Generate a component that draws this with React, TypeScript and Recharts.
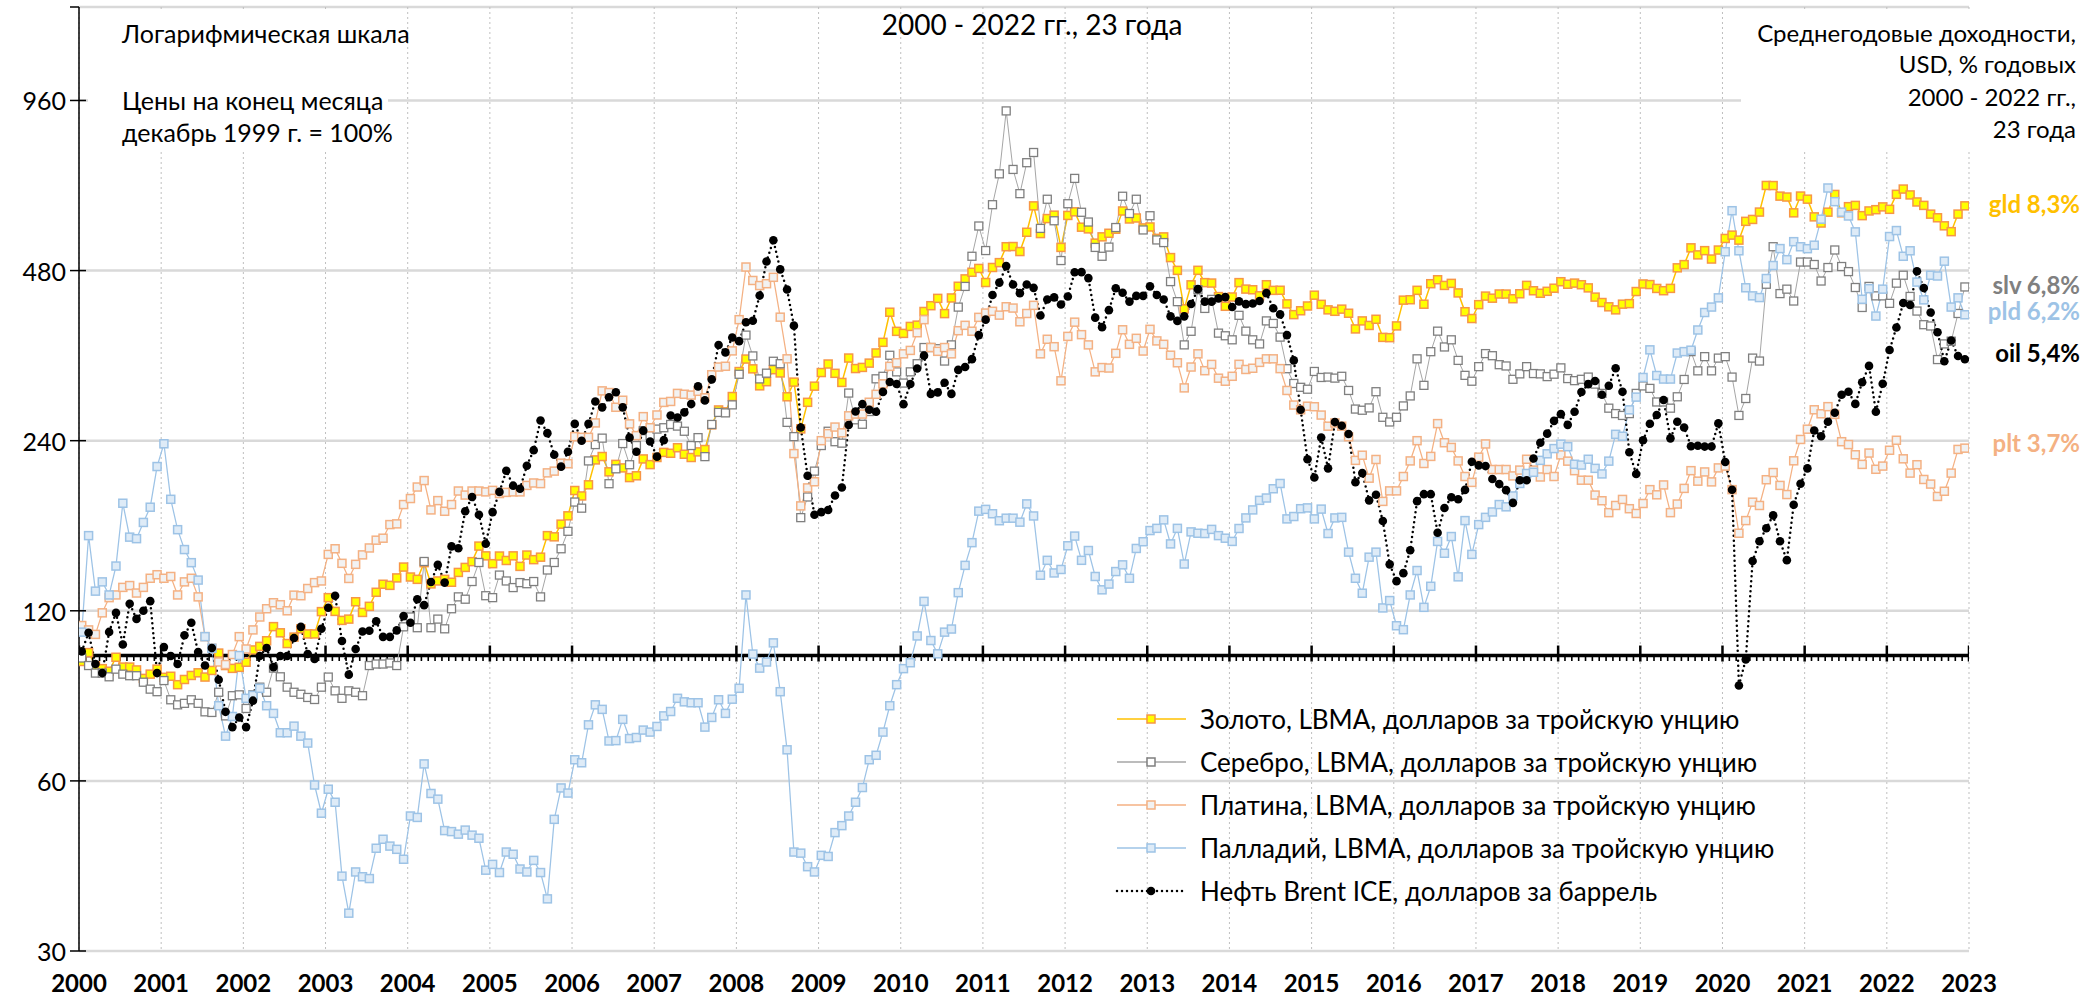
import React from 'react';
import { ComposedChart, Line, Scatter, XAxis, YAxis, CartesianGrid, ReferenceLine } from 'recharts';

const FONT = "Lato, 'Open Sans', 'DejaVu Sans', sans-serif";

// ---------- categories / tick labels ----------
const yearLabels = ['2000', '2001', '2002', '2003', '2004', '2005', '2006', '2007', '2008', '2009', '2010', '2011',
  '2012', '2013', '2014', '2015', '2016', '2017', '2018', '2019', '2020', '2021', '2022', '2023'];
const yTickValues = [30, 60, 120, 240, 480, 960];
const yTop = 1405;

// ---------- series: month-end prices, Dec 1999 = 100 (Jan 2000 ... Dec 2022) ----------
const gldValues = [
  97.6, 101.2, 95.9, 94.8, 93.8, 99.3, 95.4, 95.4, 94.3, 91.1, 92.7, 94.6,
  91.5, 91.9, 88.8, 90.7, 92.2, 93.2, 91.6, 94.1, 101.0, 96.0, 94.9, 95.3,
  97.3, 102.3, 103.8, 106.2, 112.5, 109.7, 105.0, 107.8, 111.5, 109.2, 109.2, 119.6,
  126.6, 119.7, 115.4, 116.0, 124.5, 119.2, 122.2, 129.4, 133.7, 133.1, 137.2, 143.4,
  137.7, 136.4, 146.0, 133.9, 135.5, 136.4, 134.8, 140.3, 143.2, 146.6, 156.2, 150.1,
  145.4, 150.0, 147.3, 150.1, 143.8, 150.6, 147.8, 149.3, 163.0, 162.2, 170.8, 176.7,
  195.9, 191.6, 200.5, 221.9, 225.0, 211.4, 217.9, 214.8, 206.5, 208.0, 222.8, 217.7,
  224.1, 228.8, 228.0, 233.2, 227.1, 224.1, 229.3, 231.5, 256.0, 272.0, 269.9, 287.3,
  318.1, 334.7, 321.6, 300.1, 305.2, 320.5, 316.3, 287.0, 304.7, 251.8, 280.6, 299.7,
  316.8, 328.0, 315.8, 304.3, 336.1, 322.0, 323.5, 329.2, 343.1, 358.3, 405.1, 374.7,
  371.6, 382.3, 384.3, 406.3, 416.0, 428.6, 402.8, 429.3, 450.3, 464.0, 476.7, 484.2,
  457.2, 486.1, 495.8, 529.0, 529.4, 518.7, 561.1, 624.8, 558.1, 593.3, 601.6, 527.5,
  600.9, 609.8, 572.8, 568.9, 536.8, 550.7, 558.8, 568.0, 611.9, 592.3, 594.7, 571.1,
  573.3, 547.3, 550.6, 506.1, 480.4, 410.7, 452.9, 480.5, 457.0, 456.2, 431.7, 415.0,
  431.0, 457.0, 445.1, 443.9, 433.1, 453.1, 442.8, 443.0, 419.1, 401.1, 407.5, 415.5,
  434.2, 418.3, 409.0, 406.6, 410.2, 403.4, 378.4, 391.0, 383.8, 393.6, 365.6, 365.2,
  383.1, 425.5, 426.2, 442.9, 418.5, 455.0, 462.4, 451.8, 455.6, 438.2, 405.9, 394.8,
  417.8, 432.6, 428.9, 436.3, 436.2, 428.0, 436.7, 451.9, 442.1, 437.6, 441.1, 446.7,
  458.7, 454.0, 456.1, 453.1, 447.3, 430.8, 421.4, 414.1, 409.0, 418.6, 419.5, 440.7,
  454.5, 453.4, 446.3, 442.2, 446.4, 485.4, 491.8, 526.6, 511.7, 520.6, 503.1, 521.9,
  547.1, 554.6, 543.4, 586.6, 591.2, 609.2, 679.0, 678.7, 650.1, 647.7, 607.3, 650.3,
  642.1, 597.4, 582.6, 609.0, 654.6, 607.5, 622.8, 626.0, 600.4, 612.0, 615.2, 622.2,
  616.1, 654.9, 669.1, 653.3, 634.8, 626.0, 604.1, 595.2, 576.0, 562.5, 604.2, 624.9,
];

const slvValues = [
  99, 96, 93.1, 93.1, 91.7, 94.6, 92.7, 92.1, 92.1, 89.7, 87.2, 86.3,
  90.3, 83.5, 81.8, 82.3, 83.5, 82.3, 79.5, 79.3, 86.1, 78.2, 84.9, 85.2,
  80.6, 85.2, 87.9, 86.1, 95, 91.7, 87.9, 86.1, 85.4, 84.3, 83.6, 87.9,
  91.6, 86.6, 84, 86.6, 86.1, 84.9, 96, 96.6, 96.6, 97, 96, 112.4,
  117, 112, 146.7, 112, 116, 111.5, 121, 127, 125.8, 135.2, 146.1, 127.6,
  126.6, 138.8, 135.5, 131.9, 134.6, 134, 135.2, 127, 141.7, 146.1, 154.5, 165.9,
  186.9, 182.3, 221, 236.2, 242.5, 201.4, 214, 237.2, 217.6, 235.3, 250, 245,
  251.6, 253, 256.4, 254.7, 249.4, 235.3, 243, 224.9, 256.4, 269.3, 268.8, 277.7,
  314.6, 369, 339, 308.7, 316, 331.7, 328.4, 258.6, 244, 175.4, 190.8, 212,
  235.3, 249.4, 239, 237.6, 291.4, 261.3, 256.6, 270.3, 308.8, 312, 339.9, 317.7,
  303.5, 317.7, 328.4, 350.8, 350.8, 349.1, 332, 354.6, 413.6, 450, 508.8, 575.6,
  520.8, 627.8, 711.9, 920, 724.8, 656.7, 745, 776.6, 570, 641.9, 588, 500,
  630.3, 698.8, 608.7, 585, 527.5, 508.8, 528.2, 572, 649.8, 605.6, 641.9, 566.4,
  600.2, 543.8, 538, 458.9, 422.9, 354.6, 374.8, 444, 411.4, 426.8, 372, 368,
  362, 400, 375, 362, 356, 391, 387, 366, 321.8, 303, 298.3, 296,
  318.2, 310.5, 311, 309.7, 312, 294.5, 273, 271.7, 274.3, 293, 264, 259,
  264, 276.5, 288, 335, 300.7, 344.9, 375, 351.6, 362, 332.9, 313.2, 305.8,
  324.5, 342.2, 339.3, 327.1, 325.4, 308.2, 315.1, 324.5, 315.5, 315.1, 311.6, 314.7,
  322.9, 309.1, 306.5, 308.2, 311, 302.2, 291, 274, 268, 266, 268, 291,
  300, 297, 281, 281, 274, 287, 308, 345, 319, 338, 319, 336,
  338, 311, 266, 285, 336, 332, 454, 529, 437, 445, 424, 497,
  497, 492, 460, 486, 522, 488, 478, 448, 413, 450, 433, 433,
  420, 456, 471, 432, 407, 385, 383, 334, 356, 360, 403, 449,
];

const pltValues = [
  113, 111, 109, 119, 126.6, 128, 132, 133, 129, 132, 137, 139,
  137, 138, 128, 135, 137, 127, 108, 103, 97.4, 96.4, 100.4, 108,
  102.7, 111, 117, 121, 124, 123, 120, 127.9, 127.6, 131.4, 134.6, 135.5,
  151, 154.5, 145.6, 136.9, 145, 150.7, 155, 160, 161.3, 170.5, 171, 185,
  189.6, 198.7, 204, 181, 188, 180, 185, 195.5, 192.3, 195.5, 195.5, 194.8,
  196, 193.5, 194.4, 194.8, 194.8, 200, 202, 201.5, 210.5, 212, 219, 218.5,
  244, 243.3, 243.3, 258, 294, 292, 275, 283, 257, 245, 264.7, 253,
  266.5, 280.5, 281.6, 291, 290, 289, 293.5, 285.8, 314, 324, 325, 346,
  393, 487, 461, 451.6, 455, 467, 397, 335, 227.7, 184, 198, 203,
  240, 247, 253.7, 247.8, 265.6, 267.5, 267.5, 280.7, 289.9, 302.5, 324.9, 329.7,
  341.9, 346.7, 372.6, 393, 350.8, 345.4, 350.8, 341.9, 375.7, 384, 374.9, 396.7,
  403.7, 406.6, 400.3, 414.2, 412, 389.6, 403, 416.6, 341.9, 362.8, 352, 306.3,
  367.1, 389, 369.7, 354.6, 317.7, 323.3, 322.7, 342.6, 377.1, 355.4, 364.2, 345.8,
  377.8, 360.4, 355.4, 340, 329.7, 297.6, 324, 341.9, 319.2, 327.5, 309.6, 305.8,
  312, 327.6, 320.8, 322.4, 330.2, 335, 335, 321.9, 294.5, 277.5, 272.2, 276.2,
  275.6, 266.4, 254.6, 258, 254.6, 243.9, 221.5, 226.2, 206, 222.3, 187.4, 195.6,
  195.6, 207.4, 221, 240, 218.7, 225.1, 257.3, 238, 233.5, 221, 207.4, 202.5,
  224.4, 236.8, 213.4, 213.4, 213.4, 207.9, 212.9, 222.5, 212.9, 207, 213.4, 207.4,
  226.5, 220.8, 212.4, 204.3, 204.3, 192.3, 187.9, 179, 184.3, 188.9, 181.9, 178.4,
  185.8, 196.6, 192.5, 200.4, 179, 185.4, 197.6, 212.4, 203.5, 211.3, 202.9, 214.8,
  216.4, 196.6, 164.6, 173.3, 186.8, 184.3, 204.7, 210.8, 200, 192.7, 221.1, 241.2,
  251.5, 272.2, 267.8, 275.7, 267.2, 239, 236.2, 226.6, 217.9, 228.2, 213.6, 216.4,
  230.8, 240.4, 222.9, 210.3, 217.6, 204.9, 201.1, 191.2, 195.3, 210.3, 231.6, 232.8,
];

const pldValues = [
  110, 163, 130, 135, 128, 144, 186, 162, 161, 172, 183, 216,
  237, 189, 167, 154, 146, 136, 108, 103, 81.5, 72, 78, 100,
  84, 85, 87.5, 81.5, 79, 73, 73, 75, 72, 70, 59, 52.6,
  58, 55, 40.7, 35, 41.4, 40.6, 40.3, 45.6, 47.3, 46, 45.4, 43.6,
  52, 51.7, 64.3, 57, 55.7, 49, 48.8, 48.3, 49.1, 48.1, 47.5, 41.7,
  42.7, 41.3, 44.9, 44.5, 41.9, 41.4, 43.4, 41.3, 37.1, 51.3, 58.3, 57.1,
  65.4, 64.6, 75.4, 81.8, 80.3, 70.6, 70.7, 77.1, 71.3, 71.6, 73.8, 73.2,
  74.9, 78.2, 79.6, 84.0, 82.8, 82.5, 82.5, 74.7, 77.7, 83.5, 79.0, 83.7,
  87.5, 128, 100.6, 95.0, 97.4, 105.3, 86.3, 68.1, 44.9, 44.7, 42.3, 41.4,
  44.3, 44.1, 48.6, 50, 52, 55, 58.4, 65.4, 66.6, 73.2, 81.5, 88.8,
  94.8, 97.1, 108.3, 124.7, 106.3, 100.7, 110, 111.4, 129.2, 144.4, 158.4, 180.1,
  181.4, 178.2, 173.2, 175, 175, 172.2, 185.5, 176.6, 138.7, 147.4, 140, 142,
  156.4, 162.7, 147.4, 153.4, 138, 130.7, 133.8, 140.8, 144.7, 137, 154.7, 159,
  166.4, 167.9, 173.8, 157.6, 167.9, 145.2, 165.5, 164.6, 164.4, 167.2, 163, 161.3,
  159.2, 167.8, 175.2, 181, 188.2, 190, 197.3, 201.6, 174.5, 176.2, 181.9, 182.5,
  174.5, 181.6, 164.4, 175.2, 175.6, 152.4, 137, 128.9, 149.3, 152.4, 121.4, 125.1,
  112.9, 111.1, 128, 141.4, 121.7, 132.6, 159.2, 151.7, 162.4, 137.8, 173.3, 151,
  170.5, 175.6, 179.5, 185, 183.3, 191.6, 201.6, 210, 211, 221.5, 227.5, 232.4,
  236.6, 234.2, 218, 217.3, 222.5, 214.4, 209.6, 220.8, 246.3, 244.4, 272.1, 286.6,
  310.5, 347.5, 313, 308.5, 308.5, 343, 345, 347, 376.8, 404.6, 413.7, 429.5,
  518.3, 612.6, 520.3, 447.5, 433, 430, 464.7, 490, 525, 501.8, 540, 528.9,
  524.8, 532.3, 591.8, 672, 635.6, 609, 599.6, 562, 427, 445.9, 398.8, 445,
  551.4, 565, 508.8, 520.3, 458, 426, 471, 469.5, 498.7, 413.7, 429.5, 400.9,
];

const oilValues = [
  101.7, 109.7, 96.6, 93.1, 110.1, 119, 104.6, 123.5, 116.1, 120, 124.8, 93.1,
  103.5, 99.8, 96.6, 108.6, 114.3, 101.4, 96, 103.1, 90.6, 79.5, 74.7, 77.7,
  74.7, 83.2, 99.8, 103.1, 95.4, 99.8, 99.8, 107.4, 112.4, 100.6, 98.6, 111.5,
  121.5, 127.6, 106.1, 92.5, 102.7, 110.3, 110.6, 115, 107.9, 107.9, 110.8, 117.4,
  114.3, 125.8, 122.8, 134.9, 144.7, 134.6, 156, 154.8, 180, 190.8, 177.5, 157.7,
  179.4, 194.8, 212.3, 199.8, 197.3, 216.7, 230.9, 260.6, 247.5, 226.6, 215.9, 229.4,
  257, 240, 257, 281.5, 274.9, 286.4, 292.3, 274.9, 243, 229.4, 250, 239.2,
  224.9, 240.5, 265.9, 263.8, 269.3, 278.6, 299.4, 282.8, 308.1, 354.5, 343.9, 365.5,
  360, 388.9, 391.2, 433.5, 498, 543, 482.3, 444.3, 383.5, 253.2, 208, 177.5,
  179.4, 180.9, 192, 198.3, 255.8, 270.3, 278.5, 272.2, 270, 292.8, 304.8, 302.4,
  278.5, 302.4, 322, 339.4, 290.4, 292.2, 303.9, 290.4, 320.3, 324, 334.6, 369,
  393, 434.4, 457, 488.8, 453.6, 437.8, 453.6, 447.4, 399.8, 426.7, 430.4, 418,
  431.9, 476.6, 476.9, 465.5, 396.2, 381.2, 408.5, 446.6, 438.5, 423, 433, 433,
  450.1, 434.4, 426.7, 398.3, 391, 398.3, 419, 445, 423, 423, 428.6, 430.8,
  413.8, 423.4, 418.6, 419.7, 424, 437.8, 411.8, 401.5, 369, 332.9, 272.2, 222.5,
  206.6, 243.1, 214.4, 258.9, 255.1, 246.6, 202.6, 210.3, 188.2, 192.5, 173, 145,
  135.4, 139.9, 153.6, 187.6, 193, 193, 164.9, 182.4, 190.6, 189, 196.4, 220.3,
  217, 216.4, 205.3, 201.1, 196.2, 186.3, 204.3, 204.3, 223.2, 238, 247, 260.2,
  267.4, 256, 270, 292.6, 302.2, 306, 289.4, 300.2, 322.4, 293, 229, 209.5,
  240.4, 257.2, 266.4, 283.3, 242.3, 259.2, 253.2, 234.6, 235.1, 234.3, 234.3, 257.5,
  220, 196.5, 88.5, 98.4, 147, 159.3, 168, 177, 159.3, 147.5, 184.8, 201.4,
  214.4, 250.2, 244.3, 259.2, 269, 289.4, 293, 278.8, 304.6, 325.5, 270, 302.6,
  347.3, 380.7, 420.5, 417.1, 478.6, 447, 404.6, 373.3, 331.7, 361, 338.8, 334.5,
];

const seriesNames = [
  'Золото, LBMA, долларов за тройскую унцию',
  'Серебро, LBMA, долларов за тройскую унцию',
  'Платина, LBMA, долларов за тройскую унцию',
  'Палладий, LBMA, долларов за тройскую унцию',
  'Нефть Brent ICE, долларов за баррель',
];
const endLabels = ['gld 8,3%', 'slv 6,8%', 'plt 3,7%', 'pld 6,2%', 'oil 5,4%'];

// ---------- tables built for the library ----------
const chartData = gldValues.map((g, i) => ({
  i,
  gld: g,
  slv: slvValues[i],
  plt: pltValues[i],
  pld: pldValues[i],
  oil: oilValues[i],
}));
const yearTicks = yearLabels.map((_, k) => 12 * k - 0.4);
const monthTickRows = Array.from({ length: yearLabels.length * 12 - 11 }, (_, m) => ({
  i: m - 0.4,
  v: 100,
  major: m % 12 === 0,
}));

// ---------- styles ----------
const C = {
  gldLine: '#FFC000', gldFill: '#FFFF00', gldEdge: '#F79646',
  slvLine: '#A6A6A6', slvFill: '#FFFFFF', slvEdge: '#7F7F7F',
  pltLine: '#F4B183', pltFill: '#F2F2F2', pltEdge: '#F4B183',
  pldLine: '#9DC3E6', pldFill: '#DEEBF7', pldEdge: '#9DC3E6',
  oil: '#000000',
};

const squareDot = (fill: string, stroke: string, size = 8, sw = 1.5) => (props: any) => {
  const { cx, cy, index } = props;
  if (cx == null || cy == null) return <g key={`e${index}`} />;
  return (
    <rect key={`d${index}`} x={cx - size / 2} y={cy - size / 2} width={size} height={size}
      fill={fill} stroke={stroke} strokeWidth={sw} />
  );
};

const monthTickShape = (props: any) => {
  const { cx, cy, payload } = props;
  if (payload && payload.major) {
    return <line x1={cx} x2={cx} y1={cy - 10} y2={cy + 6} stroke="#000" strokeWidth={2.5} />;
  }
  return <line x1={cx} x2={cx} y1={cy} y2={cy + 5.5} stroke="#000" strokeWidth={1.6} />;
};

const YTick = (props: any) => {
  const { x, y, payload } = props;
  const v = payload.value;
  if (v === yTop) {
    return <line x1={x - 9} x2={x} y1={y} y2={y} stroke="#000" strokeWidth={1.5} />;
  }
  return (
    <g>
      <line x1={x - 9} x2={x + 7} y1={y} y2={y} stroke="#000" strokeWidth={1.5} />
      <text x={x - 13} y={y} textAnchor="end" dominantBaseline="central"
        fontFamily={FONT} fontSize={25} fill="#000">{v}</text>
    </g>
  );
};

const XTick = (props: any) => {
  const { x, y, payload } = props;
  const label = yearLabels[Math.round((payload.value + 0.4) / 12)];
  return (
    <text x={x} y={y} dy={41} textAnchor="middle" fontFamily={FONT} fontWeight="bold"
      fontSize={24} fill="#000">{label}</text>
  );
};

const LegendSample = ({ y, kind }: { y: number; kind: number }) => {
  const x1 = 1117, x2 = 1186, mx = 1151;
  if (kind === 4) {
    return (
      <g>
        <line x1={x1} x2={x2} y1={y} y2={y} stroke="#000" strokeWidth={2.5}
          strokeDasharray="0 5" strokeLinecap="round" />
        <circle cx={mx} cy={y} r={4.3} fill="#000" />
      </g>
    );
  }
  const cfg = [
    [C.gldLine, C.gldFill, C.gldEdge],
    [C.slvLine, C.slvFill, C.slvEdge],
    [C.pltLine, C.pltFill, C.pltEdge],
    [C.pldLine, C.pldFill, C.pldEdge],
  ][kind];
  return (
    <g>
      <line x1={x1} x2={x2} y1={y} y2={y} stroke={cfg[0]} strokeWidth={1.5} />
      <rect x={mx - 4} y={y - 4} width={8} height={8} fill={cfg[1]} stroke={cfg[2]} strokeWidth={1.5} />
    </g>
  );
};

export default function App() {
  const legendRows = [719, 762, 805, 848, 891];
  const endLabelPos = [
    { y: 203, c: C.gldLine },
    { y: 284, c: '#808080' },
    { y: 442, c: C.pltLine },
    { y: 310, c: C.pldLine },
    { y: 352, c: '#000000' },
  ];
  return (
    <div style={{ position: 'absolute', left: 0, top: 0, width: 2088, height: 999, background: '#fff' }}>
      <ComposedChart width={2088} height={999} data={chartData}
        margin={{ top: 7, right: 119, left: 0, bottom: 0 }}>
        <CartesianGrid vertical={false} stroke="#D9D9D9" strokeWidth={2.5} />
        <CartesianGrid horizontal={false} stroke="#BFBFBF" strokeWidth={1} strokeDasharray="2 3" />
        <XAxis dataKey="i" type="number" domain={[-0.4, 275.6]} ticks={yearTicks} interval={0}
          allowDataOverflow tick={<XTick />} axisLine={false} tickLine={false}
          tickSize={0} tickMargin={0} height={48} />
        <YAxis type="number" scale="log" domain={[30, yTop]} ticks={[...yTickValues, yTop]} interval={0}
          allowDataOverflow tick={<YTick />} tickLine={false} tickSize={0} tickMargin={0}
          axisLine={{ stroke: '#000', strokeWidth: 1.5 }} width={79} />
        <ReferenceLine y={100} stroke="#000" strokeWidth={3.5} />
        <Scatter data={monthTickRows} dataKey="v" shape={monthTickShape} isAnimationActive={false} />
        <Line dataKey="gld" stroke={C.gldLine} strokeWidth={1.5} isAnimationActive={false}
          dot={squareDot(C.gldFill, C.gldEdge)} activeDot={false} />
        <Line dataKey="slv" stroke={C.slvLine} strokeWidth={1} isAnimationActive={false}
          dot={squareDot(C.slvFill, C.slvEdge, 8, 1.3)} activeDot={false} />
        <Line dataKey="plt" stroke={C.pltLine} strokeWidth={1.25} isAnimationActive={false}
          dot={squareDot(C.pltFill, C.pltEdge)} activeDot={false} />
        <Line dataKey="pld" stroke={C.pldLine} strokeWidth={1.25} isAnimationActive={false}
          dot={squareDot(C.pldFill, C.pldEdge)} activeDot={false} />
        <Line dataKey="oil" stroke={C.oil} strokeWidth={2.5} strokeDasharray="0 5" strokeLinecap="round"
          isAnimationActive={false} dot={{ r: 4.3, fill: '#000', stroke: '#000', strokeWidth: 0 }}
          activeDot={false} />
      </ComposedChart>

      <svg width={2088} height={999} style={{ position: 'absolute', left: 0, top: 0, pointerEvents: 'none' }}>
        <rect x={88} y={12} width={300} height={138} fill="#fff" />
        <text x={122} y={33} dominantBaseline="central" fontFamily={FONT} fontSize={25}>Логарифмическая шкала</text>
        <text x={122} y={100} dominantBaseline="central" fontFamily={FONT} fontSize={25}>Цены на конец месяца</text>
        <text x={122} y={132} dominantBaseline="central" fontFamily={FONT} fontSize={25}>декабрь 1999 г. = 100%</text>

        <text x={1032} y={24} textAnchor="middle" dominantBaseline="central" fontFamily={FONT} fontSize={28}>2000 - 2022 гг., 23 года</text>

        <rect x={1741} y={12} width={347} height={138} fill="#fff" />
        <text x={2076} y={32} textAnchor="end" dominantBaseline="central" fontFamily={FONT} fontSize={24}>Среднегодовые доходности,</text>
        <text x={2076} y={63} textAnchor="end" dominantBaseline="central" fontFamily={FONT} fontSize={24}>USD, % годовых</text>
        <text x={2076} y={96} textAnchor="end" dominantBaseline="central" fontFamily={FONT} fontSize={24}>2000 - 2022 гг.,</text>
        <text x={2076} y={128} textAnchor="end" dominantBaseline="central" fontFamily={FONT} fontSize={24}>23 года</text>

        {endLabels.map((t, k) => (
          <text key={t} x={2080} y={endLabelPos[k].y} textAnchor="end" dominantBaseline="central"
            fontFamily={FONT} fontSize={24} fontWeight="bold" fill={endLabelPos[k].c}>{t}</text>
        ))}

        {seriesNames.map((name, k) => (
          <g key={name}>
            <LegendSample y={legendRows[k]} kind={k} />
            <text x={1200} y={legendRows[k]} dominantBaseline="central" fontFamily={FONT} fontSize={26}>{name}</text>
          </g>
        ))}
      </svg>
    </div>
  );
}
